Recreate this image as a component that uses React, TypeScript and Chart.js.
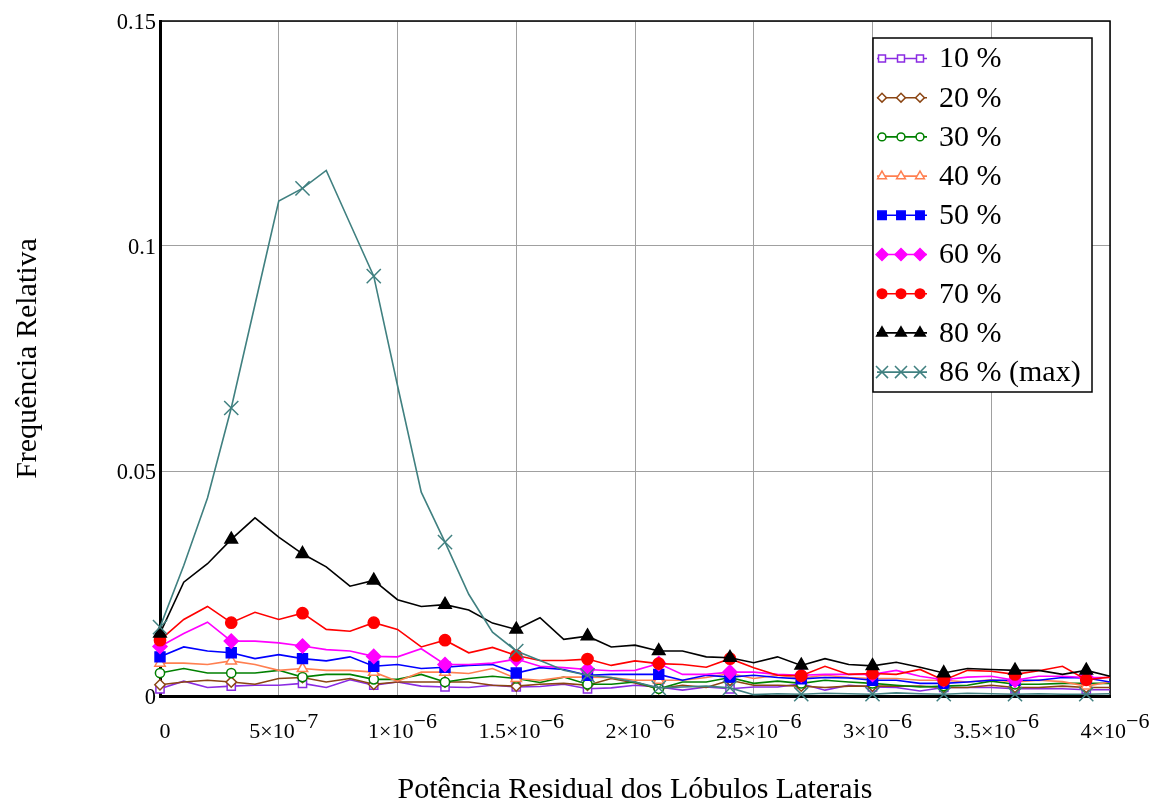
import React, { useEffect, useRef } from 'react';
import { Chart, registerables } from 'chart.js';

Chart.register(...registerables);

// ---------- data ----------
const X_VALUES = [
  0, 1e-7, 2e-7, 3e-7, 4e-7, 5e-7, 6e-7, 7e-7, 8e-7, 9e-7,
  1.0e-6, 1.1e-6, 1.2e-6, 1.3e-6, 1.4e-6, 1.5e-6, 1.6e-6, 1.7e-6, 1.8e-6, 1.9e-6,
  2.0e-6, 2.1e-6, 2.2e-6, 2.3e-6, 2.4e-6, 2.5e-6, 2.6e-6, 2.7e-6, 2.8e-6, 2.9e-6,
  3.0e-6, 3.1e-6, 3.2e-6, 3.3e-6, 3.4e-6, 3.5e-6, 3.6e-6, 3.7e-6, 3.8e-6, 3.9e-6,
  4.0e-6,
];

const S10 = [
  0.0016, 0.0033, 0.0019, 0.0022, 0.0024, 0.0024, 0.0028, 0.0019, 0.0036, 0.0024,
  0.0031, 0.0022, 0.0020, 0.0019, 0.0024, 0.0020, 0.0021, 0.0026, 0.0016, 0.0018,
  0.0024, 0.0020, 0.0013, 0.0020, 0.0016, 0.0020, 0.0020, 0.0027, 0.0013, 0.0024,
  0.0020, 0.0019, 0.0011, 0.0019, 0.0019, 0.0019, 0.0016, 0.0016, 0.0016, 0.0014,
  0.0014,
];
const S20 = [
  0.0025, 0.0031, 0.0035, 0.0031, 0.0026, 0.0039, 0.0041, 0.0031, 0.0039, 0.0026,
  0.0031, 0.0031, 0.0031, 0.0031, 0.0024, 0.0022, 0.0026, 0.0028, 0.0024, 0.0039,
  0.0029, 0.0016, 0.0024, 0.0019, 0.0035, 0.0024, 0.0024, 0.0022, 0.0019, 0.0022,
  0.0022, 0.0022, 0.0022, 0.0019, 0.0019, 0.0024, 0.0019, 0.0019, 0.0022, 0.0019,
  0.0019,
];
const S30 = [
  0.0051, 0.0061, 0.0051, 0.0051, 0.0051, 0.0057, 0.0042, 0.0048, 0.0048, 0.0037,
  0.0037, 0.0048, 0.0031, 0.0039, 0.0044, 0.0039, 0.0030, 0.0042, 0.0026, 0.0026,
  0.0031, 0.0016, 0.0031, 0.0031, 0.0041, 0.0028, 0.0033, 0.0028, 0.0035, 0.0031,
  0.0028, 0.0024, 0.0020, 0.0022, 0.0024, 0.0033, 0.0026, 0.0026, 0.0028, 0.0028,
  0.0028,
];
const S40 = [
  0.0073, 0.0073, 0.0070, 0.0078, 0.0070, 0.0057, 0.0061, 0.0057, 0.0057, 0.0053,
  0.0033, 0.0053, 0.0053, 0.0050, 0.0061, 0.0039, 0.0035, 0.0042, 0.0042, 0.0041,
  0.0035, 0.0035, 0.0035, 0.0041, 0.0050, 0.0039, 0.0046, 0.0040, 0.0046, 0.0041,
  0.0039, 0.0039, 0.0035, 0.0035, 0.0031, 0.0036, 0.0031, 0.0035, 0.0032, 0.0022,
  0.0031,
];
const S50 = [
  0.0087, 0.0109, 0.0100, 0.0096, 0.0083, 0.0092, 0.0083, 0.0078, 0.0087, 0.0066,
  0.0070, 0.0061, 0.0064, 0.0068, 0.0070, 0.0051, 0.0063, 0.0059, 0.0046, 0.0048,
  0.0048, 0.0048, 0.0035, 0.0046, 0.0042, 0.0046, 0.0041, 0.0038, 0.0041, 0.0040,
  0.0035, 0.0035, 0.0028, 0.0028, 0.0031, 0.0035, 0.0035, 0.0035, 0.0041, 0.0040,
  0.0031,
];
const S60 = [
  0.0110, 0.0139, 0.0164, 0.0122, 0.0122, 0.0118, 0.0111, 0.0103, 0.0100, 0.0088,
  0.0087, 0.0105, 0.0070, 0.0070, 0.0073, 0.0082, 0.0066, 0.0063, 0.0059, 0.0056,
  0.0057, 0.0072, 0.0048, 0.0048, 0.0053, 0.0053, 0.0048, 0.0046, 0.0048, 0.0048,
  0.0048, 0.0057, 0.0044, 0.0036, 0.0042, 0.0044, 0.0035, 0.0044, 0.0044, 0.0041,
  0.0041,
];
const S70 = [
  0.0124, 0.0170, 0.0199, 0.0163, 0.0186, 0.0170, 0.0184, 0.0148, 0.0144, 0.0163,
  0.0148, 0.0109, 0.0124, 0.0096, 0.0108, 0.0090, 0.0079, 0.0079, 0.0082, 0.0068,
  0.0078, 0.0072, 0.0070, 0.0064, 0.0083, 0.0063, 0.0046, 0.0045, 0.0066, 0.0048,
  0.0050, 0.0048, 0.0059, 0.0035, 0.0057, 0.0055, 0.0048, 0.0056, 0.0066, 0.0036,
  0.0042,
];
const S80 = [
  0.0139, 0.0253, 0.0294, 0.0348, 0.0396, 0.0353, 0.0316, 0.0287, 0.0244, 0.0257,
  0.0214, 0.0199, 0.0203, 0.0191, 0.0162, 0.0148, 0.0174, 0.0126, 0.0133, 0.0109,
  0.0113, 0.0100, 0.0100, 0.0087, 0.0085, 0.0074, 0.0087, 0.0068, 0.0083, 0.0070,
  0.0067, 0.0075, 0.0064, 0.0051, 0.0061, 0.0059, 0.0057, 0.0057, 0.0048, 0.0057,
  0.0044,
];
const S86 = [
  0.0153, 0.0290, 0.0440, 0.0640, 0.0870, 0.1100, 0.1128, 0.1168, 0.1050, 0.0933,
  0.0690, 0.0453, 0.0342, 0.0226, 0.0142, 0.0100, 0.0079, 0.0057, 0.0046, 0.0041,
  0.0031, 0.0018, 0.0020, 0.0022, 0.0018, 0.0003, 0.0005, 0.0004, 0.0006, 0.0005,
  0.0004, 0.0007, 0.0005, 0.0004, 0.0006, 0.0005, 0.0004, 0.0005, 0.0004, 0.0004,
  0.0005,
];

const SERIES_LABELS = ['10 %', '20 %', '30 %', '40 %', '50 %', '60 %', '70 %', '80 %', '86 % (max)'];
const SERIES_VALUES = [S10, S20, S30, S40, S50, S60, S70, S80, S86];

const Y_TICK_VALUES = [0, 0.05, 0.1, 0.15];
const Y_TICK_LABELS = ['0', '0.05', '0.1', '0.15'];
const X_TICK_VALUES = [0, 5e-7, 1e-6, 1.5e-6, 2e-6, 2.5e-6, 3e-6, 3.5e-6, 4e-6];
const X_TICK_MANTISSA = ['0', '5\u00d710', '1\u00d710', '1.5\u00d710', '2\u00d710', '2.5\u00d710', '3\u00d710', '3.5\u00d710', '4\u00d710'];
const X_TICK_EXPONENT = ['', '\u22127', '\u22126', '\u22126', '\u22126', '\u22126', '\u22126', '\u22126', '\u22126'];

const X_TITLE = 'Potência Residual dos Lóbulos Laterais';
const Y_TITLE = 'Frequência Relativa';

// ---------- styles ----------
const STYLES = [
  { color: '#8a2be2', style: 'rect', r: 5.8, filled: false },
  { color: '#8b4513', style: 'rectRot', r: 5.2, filled: false },
  { color: '#008000', style: 'circle', r: 4.6, filled: false },
  { color: '#ff7f50', style: 'triangle', r: 6, filled: false },
  { color: '#0000ff', style: 'rect', r: 7, filled: true },
  { color: '#ff00ff', style: 'rectRot', r: 7, filled: true },
  { color: '#ff0000', style: 'circle', r: 5.6, filled: true },
  { color: '#000000', style: 'triangle', r: 7.2, filled: true },
  { color: '#408080', style: 'crossRot', r: 10, filled: false },
];

const FONT = "'Liberation Serif', 'Times New Roman', serif";

function drawMarker(ctx: CanvasRenderingContext2D, style: string, x: number, y: number, r: number, fill: string, stroke: string, lw: number) {
  ctx.save();
  ctx.beginPath();
  ctx.lineWidth = lw;
  ctx.strokeStyle = stroke;
  ctx.fillStyle = fill;
  if (style === 'rect') {
    const s = Math.SQRT1_2 * r;
    ctx.rect(x - s, y - s, 2 * s, 2 * s);
  } else if (style === 'rectRot') {
    ctx.moveTo(x - r, y);
    ctx.lineTo(x, y - r);
    ctx.lineTo(x + r, y);
    ctx.lineTo(x, y + r);
    ctx.closePath();
  } else if (style === 'circle') {
    ctx.arc(x, y, r, 0, Math.PI * 2);
    ctx.closePath();
  } else if (style === 'triangle') {
    let a = 0;
    ctx.moveTo(x + Math.sin(a) * r, y - Math.cos(a) * r);
    a += (2 * Math.PI) / 3;
    ctx.lineTo(x + Math.sin(a) * r, y - Math.cos(a) * r);
    a += (2 * Math.PI) / 3;
    ctx.lineTo(x + Math.sin(a) * r, y - Math.cos(a) * r);
    ctx.closePath();
  } else if (style === 'crossRot') {
    const o = Math.SQRT1_2 * r;
    ctx.moveTo(x - o, y - o);
    ctx.lineTo(x + o, y + o);
    ctx.moveTo(x + o, y - o);
    ctx.lineTo(x - o, y + o);
  }
  if (style !== 'crossRot') ctx.fill();
  ctx.stroke();
  ctx.restore();
}

const framePlugin = {
  id: 'frame',
  beforeDatasetsDraw(chart: any) {
    const { ctx, chartArea: a } = chart;
    ctx.save();
    ctx.strokeStyle = '#000';
    ctx.lineWidth = 1.5;
    ctx.beginPath();
    ctx.moveTo(a.left, a.top);
    ctx.lineTo(a.right, a.top);
    ctx.lineTo(a.right, a.bottom);
    ctx.stroke();
    ctx.restore();
  },
};

const xLabelPlugin = {
  id: 'xLabels',
  afterDraw(chart: any) {
    const { ctx, chartArea: a } = chart;
    const xs = chart.scales.x;
    ctx.save();
    ctx.fillStyle = '#000';
    ctx.font = `22px ${FONT}`;
    ctx.textAlign = 'left';
    ctx.textBaseline = 'alphabetic';
    X_TICK_VALUES.forEach((v, i) => {
      const cx = xs.getPixelForValue(v) + 5;
      const m = X_TICK_MANTISSA[i];
      const e = X_TICK_EXPONENT[i];
      const mw = ctx.measureText(m).width;
      const ew = e ? ctx.measureText(e).width : 0;
      const x0 = cx - (mw + ew) / 2;
      const by = a.bottom + 41.5;
      ctx.fillText(m, x0, by);
      if (e) ctx.fillText(e, x0 + mw, by - 9.5);
    });
    ctx.restore();
  },
};

const legendPlugin = {
  id: 'customLegend',
  afterDraw(chart: any) {
    const { ctx, chartArea: a } = chart;
    const boxL = a.right - 237;
    const boxT = a.top + 17;
    const boxW = 219;
    const boxH = 354;
    ctx.save();
    ctx.fillStyle = '#fff';
    ctx.fillRect(boxL, boxT, boxW, boxH);
    ctx.strokeStyle = '#000';
    ctx.lineWidth = 1.5;
    ctx.strokeRect(boxL, boxT, boxW, boxH);
    ctx.font = `30px ${FONT}`;
    ctx.textBaseline = 'middle';
    ctx.textAlign = 'left';
    SERIES_LABELS.forEach((label, i) => {
      const st = STYLES[i];
      const y = boxT + 20.5 + 39.2 * i;
      ctx.strokeStyle = st.color;
      ctx.lineWidth = 1.6;
      ctx.beginPath();
      ctx.moveTo(boxL + 4, y);
      ctx.lineTo(boxL + 54, y);
      ctx.stroke();
      const rr = st.r * 0.85;
      [boxL + 9, boxL + 28, boxL + 47].forEach((mx) => {
        drawMarker(ctx, st.style, mx, y, rr, st.filled ? st.color : '#fff', st.color, 1.5);
      });
      ctx.fillStyle = '#000';
      ctx.fillText(label, boxL + 66, y + 1);
    });
    ctx.restore();
  },
};

export default function App() {
  const canvasRef = useRef<HTMLCanvasElement | null>(null);

  useEffect(() => {
    const canvas = canvasRef.current;
    if (!canvas) return;

    const datasets = SERIES_VALUES.map((vals, i) => {
      const st = STYLES[i];
      return {
        label: SERIES_LABELS[i],
        data: X_VALUES.map((x, j) => ({ x, y: vals[j] })),
        borderColor: st.color,
        backgroundColor: st.color,
        borderWidth: 1.6,
        tension: 0,
        pointStyle: st.style,
        pointRadius: (c: any) => (c.dataIndex % 3 === 0 ? st.r : 0),
        pointHoverRadius: (c: any) => (c.dataIndex % 3 === 0 ? st.r : 0),
        pointBorderWidth: 1.5,
        pointBorderColor: st.color,
        pointBackgroundColor: st.filled ? st.color : '#ffffff',
        clip: false as any,
        order: SERIES_VALUES.length - 1 - i,
      };
    });

    const chart = new Chart(canvas, {
      type: 'line',
      data: { datasets },
      options: {
        responsive: false,
        animation: false,
        events: [],
        layout: { padding: { top: 21, right: 43, left: 0, bottom: 0 } },
        plugins: {
          legend: { display: false },
          tooltip: { enabled: false },
        },
        scales: {
          x: {
            type: 'linear',
            min: 0,
            max: 4e-6,
            afterBuildTicks: (scale: any) => {
              scale.ticks = X_TICK_VALUES.map((v) => ({ value: v }));
            },
            afterFit: (scale: any) => {
              scale.height = 109;
            },
            grid: { color: '#a0a0a0', lineWidth: 1, drawTicks: false },
            border: { display: true, color: '#000', width: 3 },
            ticks: { display: false },
            title: {
              display: true,
              text: X_TITLE,
              color: '#000',
              font: { family: FONT, size: 30, lineHeight: 1 },
              padding: { top: 0, bottom: 0 },
            },
          },
          y: {
            type: 'linear',
            min: 0,
            max: 0.15,
            afterBuildTicks: (scale: any) => {
              scale.ticks = Y_TICK_VALUES.map((v) => ({ value: v }));
            },
            afterFit: (scale: any) => {
              scale.width = 160;
            },
            grid: { color: '#a0a0a0', lineWidth: 1, drawTicks: false },
            border: { display: true, color: '#000', width: 3 },
            ticks: {
              color: '#000',
              font: { family: FONT, size: 22.5 },
              padding: 4,
              labelOffset: 2,
              callback: (_v: any, i: number) => Y_TICK_LABELS[i],
            },
            title: {
              display: true,
              text: Y_TITLE,
              color: '#000',
              font: { family: FONT, size: 30, lineHeight: 1 },
              padding: { top: 13, bottom: 0 },
            },
          },
        },
      },
      plugins: [framePlugin, xLabelPlugin, legendPlugin],
    });

    return () => {
      chart.destroy();
    };
  }, []);

  return (
    <div style={{ position: 'absolute', left: 0, top: 0, width: 1153, height: 805, background: '#fff' }}>
      <canvas ref={canvasRef} width={1153} height={805} style={{ display: 'block', width: 1153, height: 805 }} />
    </div>
  );
}
